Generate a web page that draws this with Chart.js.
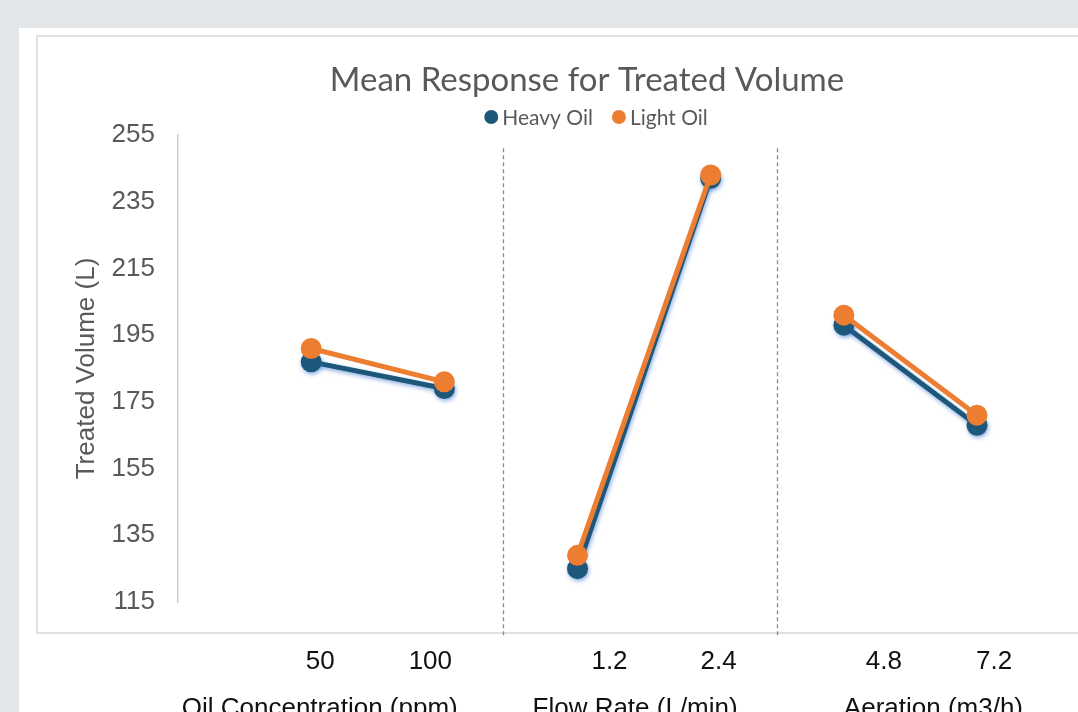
<!DOCTYPE html>
<html>
<head>
<meta charset="utf-8">
<script src="https://cdn.jsdelivr.net/npm/chart.js@4.4.1/dist/chart.umd.min.js"></script>
<style>
  html, body { margin: 0; padding: 0; }
  body { width: 1078px; height: 712px; overflow: hidden; background: #e4e7e9; position: relative; }
  #panel { position: absolute; left: 19px; top: 28px; right: 0; bottom: 0; background: #ffffff; }
  #frame { position: absolute; left: 36px; top: 35px; width: 1102px; height: 599px; box-sizing: border-box; border: 2px solid #e0e0e0; }
  #wrap { position: absolute; left: 36px; top: 35px; width: 1102px; height: 677px; }
  canvas { display: block; }
</style>
</head>
<body>
<div id="panel"></div>
<div id="frame"></div>
<div id="wrap"><canvas id="chart" width="1102" height="677"></canvas></div>
<script>
// Factors and their two levels each
const factorGroups = ['Oil Concentration (ppm)', 'Flow Rate (L/min)', 'Aeration (m3/h)'];
const levelLabels = ['50', '100', '1.2', '2.4', '4.8', '7.2'];

// Mean treated volume (L) at each factor level
const heavyOil = [187, 179, 125, 242, 198, 168];
const lightOil = [191, 181, 129, 243, 201, 171];

// Value axis ticks
const yTickValues = [115, 135, 155, 175, 195, 215, 235, 255];

const BLUE = '#1d5779';
const ORANGE = '#ed7d31';
const GREY_TEXT = '#595959';
const SANS = '"Liberation Sans", Arial, sans-serif';
const TITLE_FONT = 'Lato, "Open Sans", sans-serif';

// Two points per factor, with a gap so each factor is its own segment
function toPoints(values) {
  const pts = [];
  factorGroups.forEach((g, gi) => {
    pts.push({ x: gi * 2, y: values[gi * 2] });
    pts.push({ x: gi * 2 + 1, y: values[gi * 2 + 1] });
    if (gi < factorGroups.length - 1) pts.push({ x: gi * 2 + 1.5, y: null });
  });
  return pts;
}

// Level labels, factor names and dashed separators under the plot
const factorAxis = {
  id: 'factorAxis',
  afterDraw(chart, args, opts) {
    const { ctx, chartArea } = chart;
    const xs = chart.scales.x;
    const ys = chart.scales.y;
    ctx.save();

    // dashed separators between factors
    ctx.strokeStyle = '#8a8a8a';
    ctx.lineWidth = 1.3;
    ctx.setLineDash([4, 3]);
    opts.dividers.forEach(v => {
      const px = Math.round(xs.getPixelForValue(v)) + 0.5;
      ctx.beginPath();
      ctx.moveTo(px, ys.getPixelForValue(opts.dividerTop));
      ctx.lineTo(px, chartArea.bottom + opts.dividerBelow);
      ctx.stroke();
    });
    ctx.setLineDash([]);

    // level labels
    ctx.fillStyle = '#111111';
    ctx.font = '26px ' + SANS;
    ctx.textAlign = 'center';
    ctx.textBaseline = 'middle';
    levelLabels.forEach((t, i) => {
      ctx.fillText(t, xs.getPixelForValue(i) + opts.levelNudge[i], chartArea.bottom + opts.levelOffset);
    });

    // factor names
    ctx.textBaseline = 'alphabetic';
    factorGroups.forEach((t, gi) => {
      ctx.fillText(t, xs.getPixelForValue(gi * 2 + 0.5) + opts.groupNudge[gi], chartArea.bottom + opts.groupOffset);
    });
    ctx.restore();
  }
};

// Series key drawn under the title
const seriesKey = {
  id: 'seriesKey',
  afterDraw(chart, args, opts) {
    const { ctx } = chart;
    ctx.save();
    ctx.font = opts.fontSize + 'px ' + TITLE_FONT;
    ctx.textBaseline = 'middle';
    ctx.textAlign = 'left';
    const items = chart.data.datasets.map(ds => ({ text: ds.label, color: ds.borderColor, w: ctx.measureText(ds.label).width }));
    const r = opts.radius;
    let total = 0;
    items.forEach((it, i) => { total += 2 * r + opts.textGap + it.w + (i ? opts.itemGap : 0); });
    let x = chart.width / 2 + opts.shift - total / 2;
    items.forEach((it, i) => {
      if (i) x += opts.itemGap;
      ctx.fillStyle = it.color;
      ctx.beginPath();
      ctx.arc(x + r, opts.y, r, 0, Math.PI * 2);
      ctx.fill();
      x += 2 * r + opts.textGap;
      ctx.fillStyle = GREY_TEXT;
      ctx.fillText(it.text, x, opts.y + 1);
      x += it.w;
    });
    ctx.restore();
  }
};

// Soft blue glow under the Heavy Oil series
const seriesGlow = {
  id: 'seriesGlow',
  beforeDatasetDraw(chart, args, opts) {
    if (args.index !== opts.datasetIndex) return;
    const { ctx } = chart;
    ctx.save();
    ctx.shadowColor = opts.color;
    ctx.shadowBlur = opts.blur;
    ctx.shadowOffsetX = opts.dx;
    ctx.shadowOffsetY = opts.dy;
  },
  afterDatasetDraw(chart, args, opts) {
    if (args.index !== opts.datasetIndex) return;
    chart.ctx.restore();
  }
};

const lineStyle = (color) => ({
  borderColor: color,
  backgroundColor: color,
  pointBackgroundColor: color,
  pointBorderWidth: 0,
  pointRadius: 10.5,
  borderWidth: 5,
  spanGaps: false,
  tension: 0
});

new Chart(document.getElementById('chart'), {
  type: 'line',
  data: {
    datasets: [
      Object.assign({ label: 'Heavy Oil', data: toPoints(heavyOil), order: 2 }, lineStyle(BLUE)),
      Object.assign({ label: 'Light Oil', data: toPoints(lightOil), order: 1 }, lineStyle(ORANGE))
    ]
  },
  options: {
    responsive: false,
    animation: false,
    events: [],
    layout: { padding: { left: 0, right: 0, top: 0, bottom: 110 } },
    scales: {
      x: { type: 'linear', min: -1, max: 6.13, display: false },
      y: {
        min: yTickValues[0],
        max: yTickValues[yTickValues.length - 1],
        afterBuildTicks: (s) => { s.ticks = yTickValues.map(v => ({ value: v })); },
        afterFit: (s) => { s.width = 142; },
        ticks: { font: { family: SANS, size: 26 }, color: GREY_TEXT, padding: 23 },
        grid: { display: false, drawTicks: false },
        border: { display: true, color: '#cccccc', width: 1.5 },
        title: {
          display: true,
          text: 'Treated Volume (L)',
          font: { family: SANS, size: 26 },
          color: GREY_TEXT,
          padding: { top: 35.4, bottom: 0 }
        }
      }
    },
    plugins: {
      legend: { display: false },
      tooltip: { enabled: false },
      title: {
        display: true,
        text: 'Mean Response for Treated Volume',
        font: { family: TITLE_FONT, size: 33, weight: 'normal' },
        color: GREY_TEXT,
        padding: { top: 25.2, bottom: 35.2 }
      },
      seriesKey: { y: 82, fontSize: 21, radius: 7, textGap: 4, itemGap: 19, shift: 9 },
      seriesGlow: { datasetIndex: 0, color: 'rgba(40, 105, 205, 0.55)', blur: 4, dx: 1, dy: 2 },
      factorAxis: {
        dividers: [1.44, 3.5],
        dividerTop: 251,
        dividerBelow: 35,
        levelOffset: 60,
        groupOffset: 114,
        levelNudge: [9, -14, 32, 8, 40, 17],
        groupNudge: [-58, -9, 23]
      }
    }
  },
  plugins: [factorAxis, seriesKey, seriesGlow]
});
</script>
</body>
</html>
